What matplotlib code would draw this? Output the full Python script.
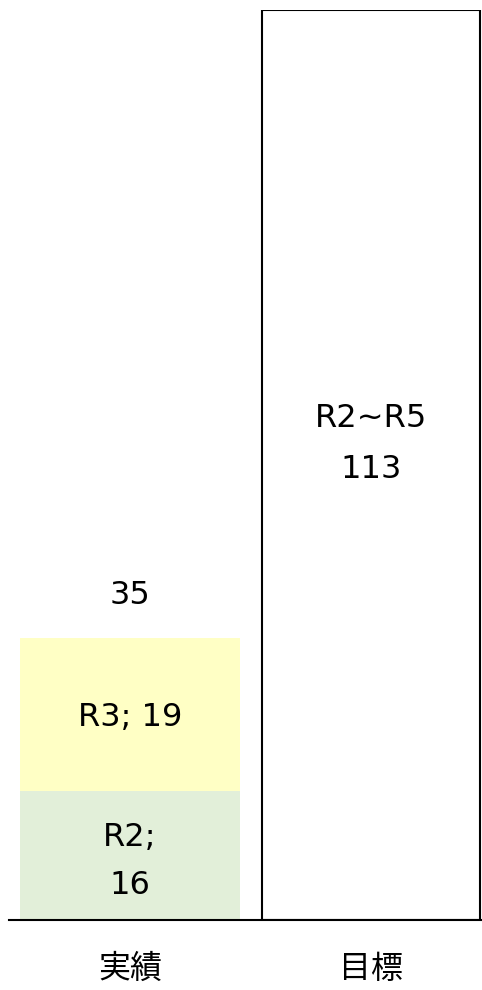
import matplotlib
matplotlib.use("Agg")
import matplotlib.pyplot as plt

categories = ["実績", "目標"]
r2_values = [16, 0]
r3_values = [19, 0]
target_values = [0, 113]
totals = [35, 113]

plt.rcParams['font.family'] = ['DejaVu Sans', 'Noto Sans CJK JP']

fig = plt.figure(figsize=(4.82, 9.9), dpi=100)
ax = fig.add_axes([9/482, 1 - 920/990, 473/482, 910/990])

x = [0, 1]
w = 0.913
ax.bar(x[0], r2_values[0], width=w, color="#E2EFD9", edgecolor="none")
ax.bar(x[0], r3_values[0], width=w, bottom=r2_values[0], color="#FFFFC5", edgecolor="none")
ax.bar(x[1], target_values[1], width=w - 0.01, color="white", edgecolor="black", linewidth=1.5)

ax.set_xlim(-0.502, 1.46)
ax.set_ylim(0, 113)

fs = 23
ax.annotate(f"R2;\n{r2_values[0]}", (x[0], r2_values[0] / 2), xytext=(0, -6),
            textcoords="offset pixels", ha="center", va="center", fontsize=fs, linespacing=1.71)
ax.annotate(f"R3; {r3_values[0]}", (x[0], r2_values[0] + r3_values[0] / 2), xytext=(0, -3),
            textcoords="offset pixels", ha="center", va="center", fontsize=fs)
ax.annotate(f"{totals[0]}", (x[0], totals[0]), xytext=(0, 43),
            textcoords="offset pixels", ha="center", va="center", fontsize=fs)
ax.annotate(f"R2~R5\n{target_values[1]}", (x[1], target_values[1] / 2), xytext=(0, 21),
            textcoords="offset pixels", ha="center", va="center", fontsize=fs, linespacing=1.85)

for s in ["top", "right", "left"]:
    ax.spines[s].set_visible(False)
ax.spines["bottom"].set_linewidth(1.5)
ax.spines["bottom"].set_color("black")
ax.set_yticks([])
ax.set_xticks(x)
ax.set_xticklabels(categories, fontsize=23, family=['Noto Sans CJK JP', 'DejaVu Sans'])
ax.tick_params(axis="x", length=0, pad=24)

fig.savefig("out.png", dpi=100)
